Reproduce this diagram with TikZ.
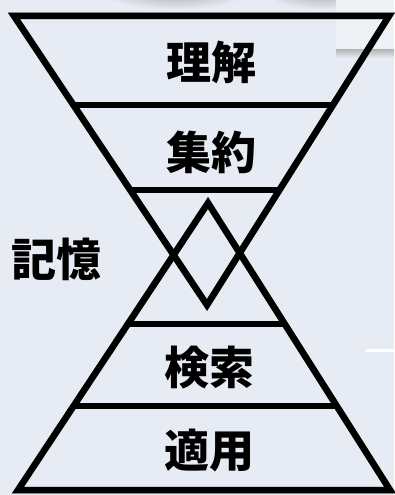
\documentclass[tikz,border=0pt]{standalone}
\usepackage{fontspec}
\usetikzlibrary{calc}
\newfontfamily\cjk{Noto Sans CJK JP}[BoldFont={Noto Sans CJK JP Black}]
\definecolor{bg}{HTML}{E7EBF3}
\definecolor{panel}{HTML}{EEF1F6}
\definecolor{shd}{HTML}{9C9C9C}
\tikzset{
  outline/.style={line width=6.5pt, line join=miter, miter limit=10},
  shadowline/.style={outline, draw=shd},
  mainline/.style={outline, draw=black},
  label/.style={font=\cjk\bfseries\fontsize{45}{45}\selectfont, inner sep=0pt, text=black}
}
\begin{document}
\begin{tikzpicture}[x=1pt,y=-1pt]
\useasboundingbox (0,0) rectangle (394,495);
\fill[bg] (0,0) rectangle (394,495);
% screenshot artifacts
\shade[inner color=gray!80, outer color=bg] (175,-14) ellipse [x radius=80, y radius=24];
\shade[inner color=gray!80, outer color=bg] (320,-14) ellipse [x radius=60, y radius=24];
\fill[panel] (336,0) rectangle (394,50);
\shade[top color=gray!55, bottom color=bg] (336,50) rectangle (394,58);
\fill[white] (366,349) rectangle (394,352);
% coordinates
\coordinate (TL) at (14,16);
\coordinate (TR) at (389,16);
\coordinate (V) at (207,305);
\coordinate (A) at (208,203);
\coordinate (BL) at (18,490);
\coordinate (BR) at (390,490);
\foreach \sx/\sy/\st in {3/4/shadowline, 0/0/mainline}{
  \begin{scope}[shift={(\sx,\sy)}]
    \draw[\st] (TL) -- (TR) -- (V) -- cycle;
    \draw[\st] ($(TL)!0.308!(V)$) -- ($(TR)!0.308!(V)$);
    \draw[\st] ($(TL)!0.602!(V)$) -- ($(TR)!0.602!(V)$);
    \draw[\st] (A) -- (BR) -- (BL) -- cycle;
    \draw[\st] ($(A)!0.4216!(BL)$) -- ($(A)!0.4216!(BR)$);
    \draw[\st] ($(A)!0.707!(BL)$) -- ($(A)!0.707!(BR)$);
  \end{scope}
}
% labels
\node[label] (rikai) at (211,62) {理解};
\node[label] (shuyaku) at (211,152) {集約};
\node[label] (kioku) at (57,259) {記憶};
\node[label] (kensaku) at (209,368) {検索};
\node[label] (tekiyo) at (209,451) {適用};
\end{tikzpicture}
\end{document}
